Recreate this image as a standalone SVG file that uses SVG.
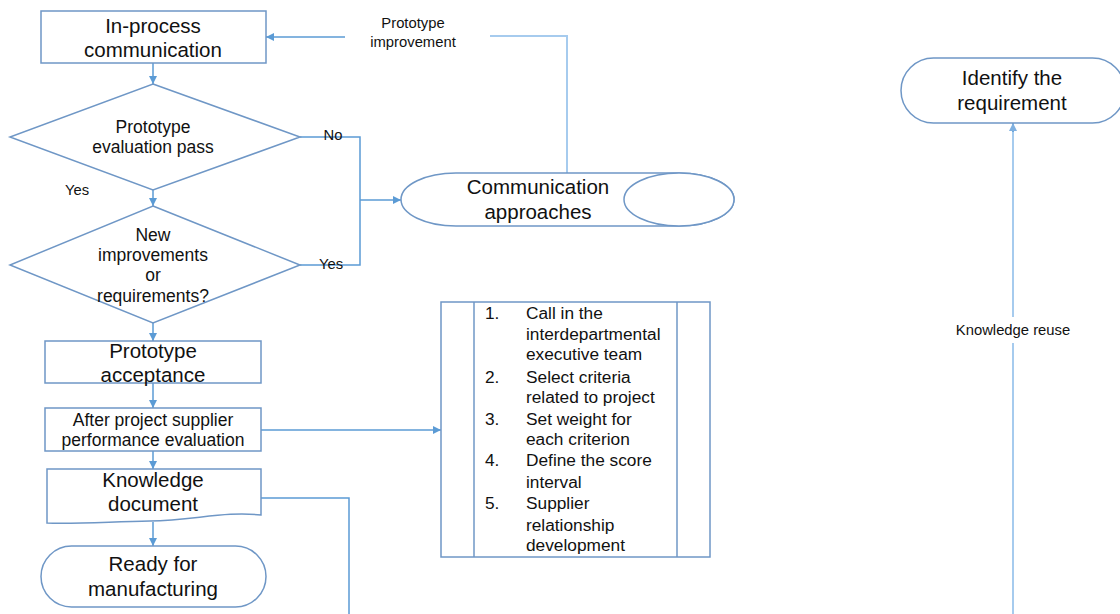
<svg xmlns="http://www.w3.org/2000/svg" width="1120" height="614" viewBox="0 0 1120 614">
  <defs>
    <marker id="arrow" viewBox="0 0 10 10" refX="10" refY="5" markerWidth="8" markerHeight="8" markerUnits="userSpaceOnUse" orient="auto">
      <path d="M0,0 L10,5 L0,10 Z" fill="#5b9bd5"/>
    </marker>
    <marker id="arrowLight" viewBox="0 0 10 10" refX="10" refY="5" markerWidth="8" markerHeight="8" markerUnits="userSpaceOnUse" orient="auto">
      <path d="M0,0 L10,5 L0,10 Z" fill="#7fb0e0"/>
    </marker>
  </defs>
  <style>
    .shape { fill: #ffffff; stroke: #6f97c6; stroke-width: 1.5; }
    .conn { fill: none; stroke: #5b9bd5; stroke-width: 1.5; }
    .connLight { fill: none; stroke: #a6cbee; stroke-width: 2; }
    text { font-family: "Liberation Sans", Arial, sans-serif; fill: #111111; text-anchor: middle; }
    .big { font-size: 20.5px; }
    .mid { font-size: 17.5px; }
    .small { font-size: 14.8px; }
    .list { font-size: 17.3px; text-anchor: start; }
  </style>
  <rect width="1120" height="614" fill="#ffffff"/>

  <g id="connectors">
    <line class="conn" x1="153" y1="63" x2="153" y2="84" marker-end="url(#arrow)"/>
    <line class="conn" x1="153" y1="190" x2="153" y2="206" marker-end="url(#arrow)"/>
    <line class="conn" x1="153" y1="323" x2="153" y2="341" marker-end="url(#arrow)"/>
    <line class="conn" x1="153" y1="383" x2="153" y2="408" marker-end="url(#arrow)"/>
    <line class="conn" x1="153" y1="451" x2="153" y2="469" marker-end="url(#arrow)"/>
    <line class="conn" x1="153" y1="522" x2="153" y2="546" marker-end="url(#arrow)"/>
    <polyline class="conn" points="300,137 360,137 360,265 300,265"/>
    <line class="conn" x1="360" y1="200" x2="401" y2="200" marker-end="url(#arrow)"/>
    <polyline class="connLight" points="567,173 567,36 490,36"/>
    <line class="conn" x1="345" y1="37" x2="266" y2="37" marker-end="url(#arrow)"/>
    <line class="conn" x1="261" y1="430" x2="441" y2="430" marker-end="url(#arrow)"/>
    <polyline class="conn" points="261,498 349,498 349,614"/>
    <line class="connLight" x1="1013" y1="614" x2="1013" y2="343"/>
    <line class="connLight" x1="1013" y1="317" x2="1013" y2="131"/>
    <line class="conn" x1="1013" y1="132" x2="1013" y2="123" marker-end="url(#arrowLight)"/>
    <text class="small" x="413" y="28">Prototype</text>
    <text class="small" x="413" y="47">improvement</text>
    <text class="small" x="333" y="140">No</text>
    <text class="small" x="77" y="195">Yes</text>
    <text class="small" x="331" y="269">Yes</text>
    <text class="small" x="1013" y="335">Knowledge reuse</text>
  </g>

  <g id="in-process-communication">
    <rect class="shape" x="41" y="11" width="225" height="52"/>
    <text class="big" x="153" y="33">In-process</text>
    <text class="big" x="153" y="57">communication</text>
  </g>

  <g id="prototype-evaluation">
    <polygon class="shape" points="153,84 300,137 153,190 10,137"/>
    <text class="mid" x="153" y="133">Prototype</text>
    <text class="mid" x="153" y="153">evaluation pass</text>
  </g>

  <g id="new-improvements">
    <polygon class="shape" points="153,206 300,265 153,323 10,265"/>
    <text class="mid" x="153" y="241">New</text>
    <text class="mid" x="153" y="261">improvements</text>
    <text class="mid" x="153" y="281">or</text>
    <text class="mid" x="153" y="302">requirements?</text>
  </g>

  <g id="communication-approaches">
    <path class="shape" d="M456,173 L679,173 A55,26.5 0 0 1 679,226 L456,226 A55,26.5 0 0 1 456,173 Z"/>
    <ellipse class="shape" cx="679" cy="199.5" rx="55" ry="26.5"/>
    <text class="big" x="538" y="194">Communication</text>
    <text class="big" x="538" y="219">approaches</text>
  </g>

  <g id="prototype-acceptance">
    <rect class="shape" x="45" y="341" width="216" height="42"/>
    <text class="big" x="153" y="358">Prototype</text>
    <text class="big" x="153" y="382">acceptance</text>
  </g>

  <g id="supplier-evaluation">
    <rect class="shape" x="45" y="408" width="216" height="43"/>
    <text class="mid" x="153" y="426">After project supplier</text>
    <text class="mid" x="153" y="446">performance evaluation</text>
  </g>

  <g id="knowledge-document">
    <path class="shape" d="M47,469 H261 V515 C225,511 195,520 150,521 C105,522 75,524 47,523 Z"/>
    <text class="big" x="153" y="487">Knowledge</text>
    <text class="big" x="153" y="511">document</text>
  </g>

  <g id="ready-for-manufacturing">
    <rect class="shape" x="41" y="546" width="225" height="61" rx="30.5" ry="30.5"/>
    <text class="big" x="153" y="571">Ready for</text>
    <text class="big" x="153" y="596">manufacturing</text>
  </g>

  <g id="evaluation-steps">
    <rect class="shape" x="441" y="302" width="269" height="255"/>
    <line class="shape" x1="474" y1="302" x2="474" y2="557"/>
    <line class="shape" x1="677" y1="302" x2="677" y2="557"/>
    <text class="list" x="485" y="319">1.</text>
    <text class="list" x="526" y="319">Call in the</text>
    <text class="list" x="526" y="340">interdepartmental</text>
    <text class="list" x="526" y="360">executive team</text>
    <text class="list" x="485" y="383">2.</text>
    <text class="list" x="526" y="383">Select criteria</text>
    <text class="list" x="526" y="403">related to project</text>
    <text class="list" x="485" y="425">3.</text>
    <text class="list" x="526" y="425">Set weight for</text>
    <text class="list" x="526" y="445">each criterion</text>
    <text class="list" x="485" y="466">4.</text>
    <text class="list" x="526" y="466">Define the score</text>
    <text class="list" x="526" y="488">interval</text>
    <text class="list" x="485" y="509">5.</text>
    <text class="list" x="526" y="509">Supplier</text>
    <text class="list" x="526" y="531">relationship</text>
    <text class="list" x="526" y="551">development</text>
  </g>

  <g id="identify-requirement">
    <rect class="shape" x="901" y="58" width="224" height="65" rx="32.5" ry="32.5"/>
    <text class="big" x="1012" y="85">Identify the</text>
    <text class="big" x="1012" y="110">requirement</text>
  </g>
</svg>
